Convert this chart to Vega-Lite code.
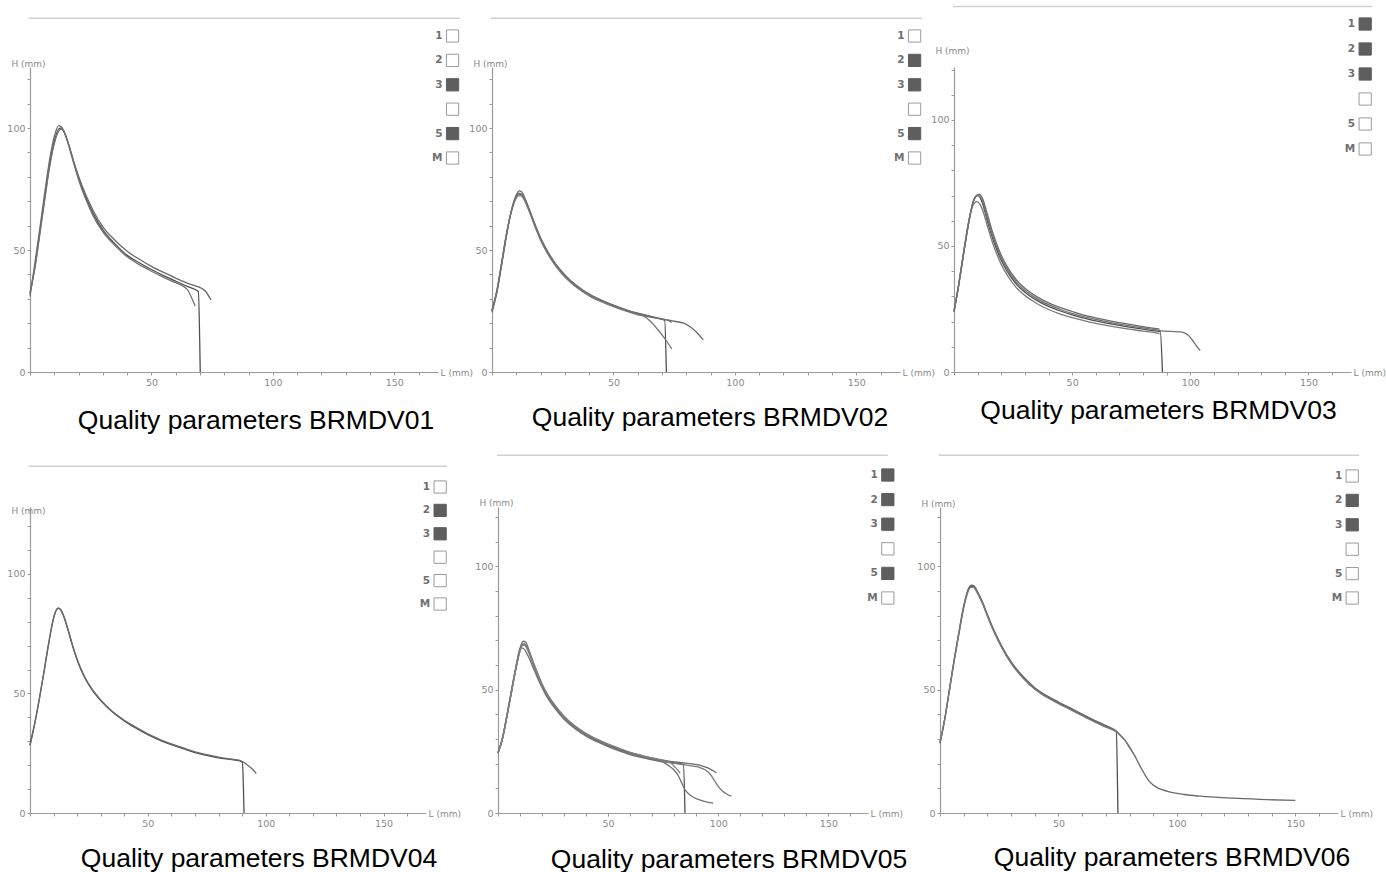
{
"$schema": "https://vega.github.io/schema/vega-lite/v6.json",
"background": "white",
"padding": {"left": 6, "top": 5, "right": 0, "bottom": 0},
"datasets": {
"curves": [
{"p":1,"r":"m","L":0,"H":32},{"p":1,"r":"m","L":2,"H":43},{"p":1,"r":"m","L":4,"H":57},{"p":1,"r":"m","L":6,"H":71},{"p":1,"r":"m","L":8,"H":84.5},{"p":1,"r":"m","L":10,"H":94.5},{"p":1,"r":"m","L":12,"H":99.8},{"p":1,"r":"m","L":13,"H":100},{"p":1,"r":"m","L":14,"H":98.5},{"p":1,"r":"m","L":16,"H":93},{"p":1,"r":"m","L":18,"H":86},{"p":1,"r":"m","L":20,"H":79.5},{"p":1,"r":"m","L":23,"H":71.5},{"p":1,"r":"m","L":26,"H":65},{"p":1,"r":"m","L":30,"H":58.2},{"p":1,"r":"m","L":35,"H":52.5},{"p":1,"r":"m","L":40,"H":47.8},{"p":1,"r":"m","L":45,"H":44.8},{"p":1,"r":"m","L":50,"H":42},{"p":1,"r":"m","L":55,"H":39.5},{"p":1,"r":"m","L":60,"H":37.2},{"p":1,"r":"m","L":65,"H":35},{"p":1,"r":"m","L":69.3,"H":33},{"p":1,"r":"m","L":70.1,"H":0},
{"p":1,"r":"a","L":0,"H":31},{"p":1,"r":"a","L":2,"H":44.5},{"p":1,"r":"a","L":4,"H":58.5},{"p":1,"r":"a","L":6,"H":73},{"p":1,"r":"a","L":8,"H":86.5},{"p":1,"r":"a","L":10,"H":96.5},{"p":1,"r":"a","L":11.8,"H":101},{"p":1,"r":"a","L":12.8,"H":100.5},{"p":1,"r":"a","L":14,"H":98.5},{"p":1,"r":"a","L":16,"H":93},{"p":1,"r":"a","L":18,"H":86.3},{"p":1,"r":"a","L":20,"H":80.2},{"p":1,"r":"a","L":23,"H":72.5},{"p":1,"r":"a","L":26,"H":66.2},{"p":1,"r":"a","L":30,"H":59.5},{"p":1,"r":"a","L":35,"H":54},{"p":1,"r":"a","L":40,"H":49.5},{"p":1,"r":"a","L":45,"H":46.2},{"p":1,"r":"a","L":50,"H":43.3},{"p":1,"r":"a","L":55,"H":40.8},{"p":1,"r":"a","L":60,"H":38.5},{"p":1,"r":"a","L":65,"H":36.3},{"p":1,"r":"a","L":71,"H":34.1},{"p":1,"r":"a","L":72.5,"H":32.8},{"p":1,"r":"a","L":74.5,"H":29.5},
{"p":1,"r":"c","L":0,"H":32.5},{"p":1,"r":"c","L":2,"H":42.5},{"p":1,"r":"c","L":4,"H":56},{"p":1,"r":"c","L":6,"H":70},{"p":1,"r":"c","L":8,"H":83.5},{"p":1,"r":"c","L":10,"H":93.5},{"p":1,"r":"c","L":12,"H":99},{"p":1,"r":"c","L":13,"H":99.6},{"p":1,"r":"c","L":14,"H":98.5},{"p":1,"r":"c","L":16,"H":92.5},{"p":1,"r":"c","L":18,"H":85.5},{"p":1,"r":"c","L":20,"H":78.8},{"p":1,"r":"c","L":23,"H":70.8},{"p":1,"r":"c","L":26,"H":64},{"p":1,"r":"c","L":30,"H":57.4},{"p":1,"r":"c","L":35,"H":51.8},{"p":1,"r":"c","L":40,"H":47.2},{"p":1,"r":"c","L":45,"H":44},{"p":1,"r":"c","L":50,"H":41.3},{"p":1,"r":"c","L":55,"H":38.8},{"p":1,"r":"c","L":60,"H":36.6},{"p":1,"r":"c","L":63,"H":35.2},{"p":1,"r":"c","L":65,"H":33.5},{"p":1,"r":"c","L":66.5,"H":30.5},{"p":1,"r":"c","L":68,"H":27},

{"p":2,"r":"m","L":0,"H":25},{"p":2,"r":"m","L":2,"H":33},{"p":2,"r":"m","L":4,"H":44.5},{"p":2,"r":"m","L":6,"H":56.5},{"p":2,"r":"m","L":8,"H":66},{"p":2,"r":"m","L":10,"H":71.8},{"p":2,"r":"m","L":11,"H":73},{"p":2,"r":"m","L":12,"H":72.8},{"p":2,"r":"m","L":14,"H":69.5},{"p":2,"r":"m","L":16,"H":64.5},{"p":2,"r":"m","L":18,"H":59.3},{"p":2,"r":"m","L":20,"H":54.5},{"p":2,"r":"m","L":23,"H":48.8},{"p":2,"r":"m","L":26,"H":44.2},{"p":2,"r":"m","L":30,"H":39.4},{"p":2,"r":"m","L":35,"H":34.9},{"p":2,"r":"m","L":40,"H":31.6},{"p":2,"r":"m","L":45,"H":29.2},{"p":2,"r":"m","L":50,"H":27.1},{"p":2,"r":"m","L":55,"H":25.3},{"p":2,"r":"m","L":60,"H":23.8},{"p":2,"r":"m","L":65,"H":22.6},{"p":2,"r":"m","L":71.1,"H":21.2},{"p":2,"r":"m","L":71.8,"H":0},
{"p":2,"r":"a","L":0,"H":24.5},{"p":2,"r":"a","L":2,"H":32.5},{"p":2,"r":"a","L":4,"H":44},{"p":2,"r":"a","L":6,"H":56},{"p":2,"r":"a","L":8,"H":66.2},{"p":2,"r":"a","L":10,"H":72.6},{"p":2,"r":"a","L":11.2,"H":74.2},{"p":2,"r":"a","L":12,"H":74},{"p":2,"r":"a","L":14,"H":70.2},{"p":2,"r":"a","L":16,"H":65},{"p":2,"r":"a","L":18,"H":59.8},{"p":2,"r":"a","L":20,"H":55},{"p":2,"r":"a","L":23,"H":49.3},{"p":2,"r":"a","L":26,"H":44.6},{"p":2,"r":"a","L":30,"H":39.8},{"p":2,"r":"a","L":35,"H":35.3},{"p":2,"r":"a","L":40,"H":31.9},{"p":2,"r":"a","L":45,"H":29.5},{"p":2,"r":"a","L":50,"H":27.4},{"p":2,"r":"a","L":55,"H":25.6},{"p":2,"r":"a","L":60,"H":24.1},{"p":2,"r":"a","L":65,"H":22.9},{"p":2,"r":"a","L":70,"H":21.8},{"p":2,"r":"a","L":75,"H":20.8},{"p":2,"r":"a","L":79,"H":20},{"p":2,"r":"a","L":82,"H":18.2},{"p":2,"r":"a","L":85,"H":15.5},{"p":2,"r":"a","L":87,"H":13.2},
{"p":2,"r":"b","L":0,"H":25.3},{"p":2,"r":"b","L":2,"H":33.5},{"p":2,"r":"b","L":4,"H":45},{"p":2,"r":"b","L":6,"H":56.8},{"p":2,"r":"b","L":8,"H":65.8},{"p":2,"r":"b","L":10,"H":71.3},{"p":2,"r":"b","L":11,"H":72.3},{"p":2,"r":"b","L":12,"H":72.2},{"p":2,"r":"b","L":14,"H":69},{"p":2,"r":"b","L":16,"H":64},{"p":2,"r":"b","L":18,"H":58.8},{"p":2,"r":"b","L":20,"H":54},{"p":2,"r":"b","L":23,"H":48.3},{"p":2,"r":"b","L":26,"H":43.7},{"p":2,"r":"b","L":30,"H":38.9},{"p":2,"r":"b","L":35,"H":34.5},{"p":2,"r":"b","L":40,"H":31.2},{"p":2,"r":"b","L":45,"H":28.8},{"p":2,"r":"b","L":50,"H":26.8},{"p":2,"r":"b","L":55,"H":25},{"p":2,"r":"b","L":60,"H":23.4},{"p":2,"r":"b","L":63,"H":22.6},{"p":2,"r":"b","L":66,"H":20},{"p":2,"r":"b","L":69,"H":16.5},{"p":2,"r":"b","L":72,"H":12.5},{"p":2,"r":"b","L":74,"H":9.5},
{"p":2,"r":"c","L":0,"H":25},{"p":2,"r":"c","L":2,"H":33.2},{"p":2,"r":"c","L":4,"H":44.8},{"p":2,"r":"c","L":6,"H":56.7},{"p":2,"r":"c","L":8,"H":66.1},{"p":2,"r":"c","L":10,"H":72},{"p":2,"r":"c","L":11,"H":73.3},{"p":2,"r":"c","L":12,"H":73},{"p":2,"r":"c","L":14,"H":69.7},{"p":2,"r":"c","L":16,"H":64.7},{"p":2,"r":"c","L":18,"H":59.5},{"p":2,"r":"c","L":20,"H":54.7},{"p":2,"r":"c","L":23,"H":49},{"p":2,"r":"c","L":26,"H":44.4},{"p":2,"r":"c","L":30,"H":39.6},{"p":2,"r":"c","L":35,"H":35.1},{"p":2,"r":"c","L":40,"H":31.8},{"p":2,"r":"c","L":45,"H":29.4},{"p":2,"r":"c","L":50,"H":27.3},{"p":2,"r":"c","L":55,"H":25.5},{"p":2,"r":"c","L":60,"H":24},{"p":2,"r":"c","L":65,"H":22.8},{"p":2,"r":"c","L":70,"H":21.7},{"p":2,"r":"c","L":72.5,"H":21.2},{"p":2,"r":"c","L":74,"H":20.3},

{"p":3,"r":"m","L":0,"H":24},{"p":3,"r":"m","L":2,"H":34.5},{"p":3,"r":"m","L":4,"H":46.5},{"p":3,"r":"m","L":6,"H":58},{"p":3,"r":"m","L":8,"H":67},{"p":3,"r":"m","L":9,"H":69.3},{"p":3,"r":"m","L":10,"H":70},{"p":3,"r":"m","L":11,"H":69.3},{"p":3,"r":"m","L":12,"H":67},{"p":3,"r":"m","L":14,"H":60.3},{"p":3,"r":"m","L":16,"H":54},{"p":3,"r":"m","L":18,"H":48.7},{"p":3,"r":"m","L":20,"H":44.3},{"p":3,"r":"m","L":23,"H":39.2},{"p":3,"r":"m","L":26,"H":35.3},{"p":3,"r":"m","L":30,"H":31.6},{"p":3,"r":"m","L":35,"H":28.4},{"p":3,"r":"m","L":40,"H":26},{"p":3,"r":"m","L":45,"H":24.2},{"p":3,"r":"m","L":50,"H":22.7},{"p":3,"r":"m","L":55,"H":21.4},{"p":3,"r":"m","L":60,"H":20.3},{"p":3,"r":"m","L":65,"H":19.3},{"p":3,"r":"m","L":70,"H":18.5},{"p":3,"r":"m","L":75,"H":17.7},{"p":3,"r":"m","L":80,"H":17},{"p":3,"r":"m","L":85,"H":16.3},{"p":3,"r":"m","L":87.3,"H":16},{"p":3,"r":"m","L":88.2,"H":0},
{"p":3,"r":"a","L":0,"H":24},{"p":3,"r":"a","L":2,"H":34.7},{"p":3,"r":"a","L":4,"H":46.8},{"p":3,"r":"a","L":6,"H":58.3},{"p":3,"r":"a","L":8,"H":67.3},{"p":3,"r":"a","L":9.5,"H":70},{"p":3,"r":"a","L":10.8,"H":70.5},{"p":3,"r":"a","L":12,"H":69},{"p":3,"r":"a","L":14,"H":63},{"p":3,"r":"a","L":16,"H":56.5},{"p":3,"r":"a","L":18,"H":51},{"p":3,"r":"a","L":20,"H":46.3},{"p":3,"r":"a","L":23,"H":41},{"p":3,"r":"a","L":26,"H":37},{"p":3,"r":"a","L":30,"H":33.2},{"p":3,"r":"a","L":35,"H":29.9},{"p":3,"r":"a","L":40,"H":27.4},{"p":3,"r":"a","L":45,"H":25.5},{"p":3,"r":"a","L":50,"H":24},{"p":3,"r":"a","L":55,"H":22.6},{"p":3,"r":"a","L":60,"H":21.5},{"p":3,"r":"a","L":65,"H":20.5},{"p":3,"r":"a","L":70,"H":19.6},{"p":3,"r":"a","L":75,"H":18.8},{"p":3,"r":"a","L":80,"H":18},{"p":3,"r":"a","L":85,"H":17.3},{"p":3,"r":"a","L":87,"H":17},
{"p":3,"r":"b","L":0,"H":24.2},{"p":3,"r":"b","L":2,"H":35},{"p":3,"r":"b","L":4,"H":47.3},{"p":3,"r":"b","L":6,"H":58.8},{"p":3,"r":"b","L":8,"H":66},{"p":3,"r":"b","L":9.6,"H":67.6},{"p":3,"r":"b","L":11,"H":66.5},{"p":3,"r":"b","L":12,"H":64.5},{"p":3,"r":"b","L":14,"H":58.3},{"p":3,"r":"b","L":16,"H":52.2},{"p":3,"r":"b","L":18,"H":47},{"p":3,"r":"b","L":20,"H":42.7},{"p":3,"r":"b","L":23,"H":37.7},{"p":3,"r":"b","L":26,"H":33.9},{"p":3,"r":"b","L":30,"H":30.3},{"p":3,"r":"b","L":35,"H":27.2},{"p":3,"r":"b","L":40,"H":24.8},{"p":3,"r":"b","L":45,"H":23},{"p":3,"r":"b","L":50,"H":21.6},{"p":3,"r":"b","L":55,"H":20.4},{"p":3,"r":"b","L":60,"H":19.3},{"p":3,"r":"b","L":65,"H":18.4},{"p":3,"r":"b","L":70,"H":17.6},{"p":3,"r":"b","L":75,"H":16.9},{"p":3,"r":"b","L":80,"H":16.2},{"p":3,"r":"b","L":85,"H":15.6},{"p":3,"r":"b","L":87,"H":15.2},
{"p":3,"r":"c","L":0,"H":24},{"p":3,"r":"c","L":2,"H":34.6},{"p":3,"r":"c","L":4,"H":46.6},{"p":3,"r":"c","L":6,"H":58.1},{"p":3,"r":"c","L":8,"H":67.2},{"p":3,"r":"c","L":10,"H":70.2},{"p":3,"r":"c","L":11,"H":69.6},{"p":3,"r":"c","L":12,"H":67.8},{"p":3,"r":"c","L":14,"H":61.4},{"p":3,"r":"c","L":16,"H":55.2},{"p":3,"r":"c","L":18,"H":49.8},{"p":3,"r":"c","L":20,"H":45.3},{"p":3,"r":"c","L":23,"H":40.1},{"p":3,"r":"c","L":26,"H":36.1},{"p":3,"r":"c","L":30,"H":32.4},{"p":3,"r":"c","L":35,"H":29.1},{"p":3,"r":"c","L":40,"H":26.7},{"p":3,"r":"c","L":45,"H":24.8},{"p":3,"r":"c","L":50,"H":23.3},{"p":3,"r":"c","L":55,"H":22},{"p":3,"r":"c","L":60,"H":20.9},{"p":3,"r":"c","L":65,"H":19.9},{"p":3,"r":"c","L":70,"H":19},{"p":3,"r":"c","L":75,"H":18.2},{"p":3,"r":"c","L":80,"H":17.5},{"p":3,"r":"c","L":85,"H":16.8},{"p":3,"r":"c","L":88,"H":16.3},{"p":3,"r":"c","L":92,"H":16.1},{"p":3,"r":"c","L":96,"H":15.9},{"p":3,"r":"c","L":99,"H":14.7},{"p":3,"r":"c","L":101,"H":12.5},{"p":3,"r":"c","L":102.5,"H":10.5},{"p":3,"r":"c","L":104.2,"H":8.5},

{"p":4,"r":"m","L":0,"H":28.5},{"p":4,"r":"m","L":2,"H":37.5},{"p":4,"r":"m","L":4,"H":48},{"p":4,"r":"m","L":6,"H":59.5},{"p":4,"r":"m","L":8,"H":71.5},{"p":4,"r":"m","L":10,"H":81.5},{"p":4,"r":"m","L":11,"H":84.5},{"p":4,"r":"m","L":12,"H":85.6},{"p":4,"r":"m","L":13,"H":85},{"p":4,"r":"m","L":14,"H":83},{"p":4,"r":"m","L":16,"H":77},{"p":4,"r":"m","L":18,"H":70},{"p":4,"r":"m","L":20,"H":64},{"p":4,"r":"m","L":23,"H":57},{"p":4,"r":"m","L":26,"H":52},{"p":4,"r":"m","L":30,"H":47},{"p":4,"r":"m","L":35,"H":42.2},{"p":4,"r":"m","L":40,"H":38.5},{"p":4,"r":"m","L":45,"H":35.5},{"p":4,"r":"m","L":50,"H":32.8},{"p":4,"r":"m","L":55,"H":30.5},{"p":4,"r":"m","L":60,"H":28.6},{"p":4,"r":"m","L":65,"H":26.9},{"p":4,"r":"m","L":70,"H":25.3},{"p":4,"r":"m","L":75,"H":24.1},{"p":4,"r":"m","L":80,"H":23.1},{"p":4,"r":"m","L":85,"H":22.4},{"p":4,"r":"m","L":89,"H":21.8},{"p":4,"r":"m","L":90.1,"H":21.2},{"p":4,"r":"m","L":90.8,"H":0},
{"p":4,"r":"a","L":0,"H":28.3},{"p":4,"r":"a","L":2,"H":37.3},{"p":4,"r":"a","L":4,"H":47.8},{"p":4,"r":"a","L":6,"H":59.3},{"p":4,"r":"a","L":8,"H":71.3},{"p":4,"r":"a","L":10,"H":81.5},{"p":4,"r":"a","L":11,"H":84.7},{"p":4,"r":"a","L":12,"H":85.8},{"p":4,"r":"a","L":13,"H":85.2},{"p":4,"r":"a","L":14,"H":83.2},{"p":4,"r":"a","L":16,"H":77.3},{"p":4,"r":"a","L":18,"H":70.4},{"p":4,"r":"a","L":20,"H":64.3},{"p":4,"r":"a","L":23,"H":57.3},{"p":4,"r":"a","L":26,"H":52.3},{"p":4,"r":"a","L":30,"H":47.3},{"p":4,"r":"a","L":35,"H":42.5},{"p":4,"r":"a","L":40,"H":38.8},{"p":4,"r":"a","L":45,"H":35.8},{"p":4,"r":"a","L":50,"H":33.1},{"p":4,"r":"a","L":55,"H":30.8},{"p":4,"r":"a","L":60,"H":28.9},{"p":4,"r":"a","L":65,"H":27.2},{"p":4,"r":"a","L":70,"H":25.6},{"p":4,"r":"a","L":75,"H":24.4},{"p":4,"r":"a","L":80,"H":23.4},{"p":4,"r":"a","L":85,"H":22.6},{"p":4,"r":"a","L":89,"H":22},{"p":4,"r":"a","L":91,"H":21},{"p":4,"r":"a","L":93,"H":19.5},{"p":4,"r":"a","L":94.5,"H":18.2},{"p":4,"r":"a","L":96,"H":16.5},

{"p":5,"r":"m","L":0,"H":24.3},{"p":5,"r":"m","L":2,"H":30},{"p":5,"r":"m","L":4,"H":39},{"p":5,"r":"m","L":6,"H":48.5},{"p":5,"r":"m","L":8,"H":58},{"p":5,"r":"m","L":10,"H":66},{"p":5,"r":"m","L":11,"H":68.3},{"p":5,"r":"m","L":12,"H":68.5},{"p":5,"r":"m","L":13,"H":67.3},{"p":5,"r":"m","L":14,"H":65.3},{"p":5,"r":"m","L":16,"H":60.5},{"p":5,"r":"m","L":18,"H":56},{"p":5,"r":"m","L":20,"H":51.8},{"p":5,"r":"m","L":23,"H":46.8},{"p":5,"r":"m","L":26,"H":43},{"p":5,"r":"m","L":30,"H":38.7},{"p":5,"r":"m","L":35,"H":34.7},{"p":5,"r":"m","L":40,"H":31.7},{"p":5,"r":"m","L":45,"H":29.5},{"p":5,"r":"m","L":50,"H":27.5},{"p":5,"r":"m","L":55,"H":25.8},{"p":5,"r":"m","L":60,"H":24.2},{"p":5,"r":"m","L":65,"H":23},{"p":5,"r":"m","L":70,"H":21.9},{"p":5,"r":"m","L":75,"H":21},{"p":5,"r":"m","L":80,"H":20.3},{"p":5,"r":"m","L":84.2,"H":19.6},{"p":5,"r":"m","L":84.9,"H":0},
{"p":5,"r":"a","L":0,"H":24.3},{"p":5,"r":"a","L":2,"H":30.2},{"p":5,"r":"a","L":4,"H":39.3},{"p":5,"r":"a","L":6,"H":49},{"p":5,"r":"a","L":8,"H":58.6},{"p":5,"r":"a","L":10,"H":66.8},{"p":5,"r":"a","L":11.5,"H":69.6},{"p":5,"r":"a","L":12.5,"H":69.3},{"p":5,"r":"a","L":14,"H":66.2},{"p":5,"r":"a","L":16,"H":61.2},{"p":5,"r":"a","L":18,"H":56.6},{"p":5,"r":"a","L":20,"H":52.3},{"p":5,"r":"a","L":23,"H":47.3},{"p":5,"r":"a","L":26,"H":43.5},{"p":5,"r":"a","L":30,"H":39.2},{"p":5,"r":"a","L":35,"H":35.2},{"p":5,"r":"a","L":40,"H":32.2},{"p":5,"r":"a","L":45,"H":29.9},{"p":5,"r":"a","L":50,"H":27.9},{"p":5,"r":"a","L":55,"H":26.2},{"p":5,"r":"a","L":60,"H":24.6},{"p":5,"r":"a","L":65,"H":23.4},{"p":5,"r":"a","L":70,"H":22.3},{"p":5,"r":"a","L":75,"H":21.4},{"p":5,"r":"a","L":80,"H":20.7},{"p":5,"r":"a","L":85,"H":20.2},{"p":5,"r":"a","L":88,"H":19.9},{"p":5,"r":"a","L":91,"H":19.5},{"p":5,"r":"a","L":93,"H":19},{"p":5,"r":"a","L":95.5,"H":18.2},{"p":5,"r":"a","L":97.5,"H":17.2},{"p":5,"r":"a","L":99.2,"H":16.2},
{"p":5,"r":"b","L":0,"H":24.4},{"p":5,"r":"b","L":2,"H":30},{"p":5,"r":"b","L":4,"H":38.9},{"p":5,"r":"b","L":6,"H":48.3},{"p":5,"r":"b","L":8,"H":57.8},{"p":5,"r":"b","L":10,"H":65.6},{"p":5,"r":"b","L":11,"H":67.8},{"p":5,"r":"b","L":12,"H":68},{"p":5,"r":"b","L":13,"H":66.9},{"p":5,"r":"b","L":14,"H":64.9},{"p":5,"r":"b","L":16,"H":60.1},{"p":5,"r":"b","L":18,"H":55.6},{"p":5,"r":"b","L":20,"H":51.4},{"p":5,"r":"b","L":23,"H":46.4},{"p":5,"r":"b","L":26,"H":42.6},{"p":5,"r":"b","L":30,"H":38.4},{"p":5,"r":"b","L":35,"H":34.4},{"p":5,"r":"b","L":40,"H":31.4},{"p":5,"r":"b","L":45,"H":29.2},{"p":5,"r":"b","L":50,"H":27.2},{"p":5,"r":"b","L":55,"H":25.5},{"p":5,"r":"b","L":60,"H":24},{"p":5,"r":"b","L":65,"H":22.8},{"p":5,"r":"b","L":70,"H":21.7},{"p":5,"r":"b","L":75,"H":20.8},{"p":5,"r":"b","L":80,"H":20.1},{"p":5,"r":"b","L":85,"H":19.5},{"p":5,"r":"b","L":90,"H":18.8},{"p":5,"r":"b","L":92,"H":18.3},{"p":5,"r":"b","L":94,"H":17.5},{"p":5,"r":"b","L":95.5,"H":16.5},{"p":5,"r":"b","L":97,"H":14.9},{"p":5,"r":"b","L":98.5,"H":12.8},{"p":5,"r":"b","L":100,"H":10.8},{"p":5,"r":"b","L":102,"H":8.8},{"p":5,"r":"b","L":104,"H":7.6},{"p":5,"r":"b","L":106,"H":6.8},
{"p":5,"r":"c","L":0,"H":24.5},{"p":5,"r":"c","L":2,"H":30.3},{"p":5,"r":"c","L":4,"H":39.5},{"p":5,"r":"c","L":6,"H":49.2},{"p":5,"r":"c","L":8,"H":58.5},{"p":5,"r":"c","L":10,"H":66.5},{"p":5,"r":"c","L":10.6,"H":66.9},{"p":5,"r":"c","L":12,"H":66.3},{"p":5,"r":"c","L":13,"H":64.8},{"p":5,"r":"c","L":14,"H":63},{"p":5,"r":"c","L":16,"H":58.8},{"p":5,"r":"c","L":18,"H":54.6},{"p":5,"r":"c","L":20,"H":50.8},{"p":5,"r":"c","L":23,"H":45.9},{"p":5,"r":"c","L":26,"H":42.2},{"p":5,"r":"c","L":30,"H":38},{"p":5,"r":"c","L":35,"H":34.1},{"p":5,"r":"c","L":40,"H":31.1},{"p":5,"r":"c","L":45,"H":28.9},{"p":5,"r":"c","L":50,"H":26.9},{"p":5,"r":"c","L":55,"H":25.2},{"p":5,"r":"c","L":60,"H":23.7},{"p":5,"r":"c","L":65,"H":22.5},{"p":5,"r":"c","L":70,"H":21.5},{"p":5,"r":"c","L":75,"H":20.6},{"p":5,"r":"c","L":77,"H":19.5},{"p":5,"r":"c","L":79.7,"H":17.6},{"p":5,"r":"c","L":82,"H":14.9},{"p":5,"r":"c","L":83.5,"H":12},{"p":5,"r":"c","L":84.9,"H":9.5},{"p":5,"r":"c","L":86.5,"H":7.8},{"p":5,"r":"c","L":88,"H":6.8},{"p":5,"r":"c","L":90,"H":5.8},{"p":5,"r":"c","L":92.5,"H":5},{"p":5,"r":"c","L":95,"H":4.4},{"p":5,"r":"c","L":97.7,"H":4},
{"p":5,"r":"d","L":0,"H":24.2},{"p":5,"r":"d","L":2,"H":29.9},{"p":5,"r":"d","L":4,"H":38.8},{"p":5,"r":"d","L":6,"H":48.4},{"p":5,"r":"d","L":8,"H":57.9},{"p":5,"r":"d","L":10,"H":66},{"p":5,"r":"d","L":11,"H":68.1},{"p":5,"r":"d","L":12,"H":68.4},{"p":5,"r":"d","L":13,"H":67.4},{"p":5,"r":"d","L":14,"H":65.5},{"p":5,"r":"d","L":16,"H":60.8},{"p":5,"r":"d","L":18,"H":56.3},{"p":5,"r":"d","L":20,"H":52.1},{"p":5,"r":"d","L":23,"H":47.1},{"p":5,"r":"d","L":26,"H":43.3},{"p":5,"r":"d","L":30,"H":39},{"p":5,"r":"d","L":35,"H":35},{"p":5,"r":"d","L":40,"H":32},{"p":5,"r":"d","L":45,"H":29.8},{"p":5,"r":"d","L":50,"H":27.8},{"p":5,"r":"d","L":55,"H":26.1},{"p":5,"r":"d","L":60,"H":24.5},{"p":5,"r":"d","L":65,"H":23.3},{"p":5,"r":"d","L":70,"H":22.2},{"p":5,"r":"d","L":75,"H":21.3},{"p":5,"r":"d","L":78,"H":20.6},{"p":5,"r":"d","L":80.4,"H":18.6},{"p":5,"r":"d","L":82.7,"H":16.2},

{"p":6,"r":"m","L":0,"H":28.4},{"p":6,"r":"m","L":2,"H":38},{"p":6,"r":"m","L":4,"H":50},{"p":6,"r":"m","L":6,"H":62},{"p":6,"r":"m","L":8,"H":73},{"p":6,"r":"m","L":10,"H":83.5},{"p":6,"r":"m","L":11,"H":87.5},{"p":6,"r":"m","L":12,"H":90.5},{"p":6,"r":"m","L":13,"H":91.8},{"p":6,"r":"m","L":14,"H":91.8},{"p":6,"r":"m","L":15,"H":90.8},{"p":6,"r":"m","L":16,"H":89},{"p":6,"r":"m","L":18,"H":85},{"p":6,"r":"m","L":20,"H":80},{"p":6,"r":"m","L":23,"H":73.2},{"p":6,"r":"m","L":26,"H":67.4},{"p":6,"r":"m","L":30,"H":60.9},{"p":6,"r":"m","L":35,"H":55},{"p":6,"r":"m","L":40,"H":50.4},{"p":6,"r":"m","L":45,"H":47.2},{"p":6,"r":"m","L":50,"H":44.6},{"p":6,"r":"m","L":55,"H":42.2},{"p":6,"r":"m","L":60,"H":39.7},{"p":6,"r":"m","L":65,"H":37.3},{"p":6,"r":"m","L":70,"H":35},{"p":6,"r":"m","L":74.4,"H":33},{"p":6,"r":"m","L":75.1,"H":0},
{"p":6,"r":"a","L":0,"H":28.2},{"p":6,"r":"a","L":2,"H":38.2},{"p":6,"r":"a","L":4,"H":50.3},{"p":6,"r":"a","L":6,"H":62.4},{"p":6,"r":"a","L":8,"H":73.5},{"p":6,"r":"a","L":10,"H":84},{"p":6,"r":"a","L":11,"H":88},{"p":6,"r":"a","L":12,"H":91},{"p":6,"r":"a","L":13.2,"H":92.3},{"p":6,"r":"a","L":14,"H":92.2},{"p":6,"r":"a","L":15,"H":91.2},{"p":6,"r":"a","L":16,"H":89.4},{"p":6,"r":"a","L":18,"H":85.4},{"p":6,"r":"a","L":20,"H":80.4},{"p":6,"r":"a","L":23,"H":73.6},{"p":6,"r":"a","L":26,"H":67.8},{"p":6,"r":"a","L":30,"H":61.3},{"p":6,"r":"a","L":35,"H":55.4},{"p":6,"r":"a","L":40,"H":50.8},{"p":6,"r":"a","L":45,"H":47.6},{"p":6,"r":"a","L":50,"H":45},{"p":6,"r":"a","L":55,"H":42.6},{"p":6,"r":"a","L":60,"H":40.1},{"p":6,"r":"a","L":65,"H":37.7},{"p":6,"r":"a","L":70,"H":35.4},{"p":6,"r":"a","L":74,"H":33.5},{"p":6,"r":"a","L":76,"H":31.7},{"p":6,"r":"a","L":78,"H":29.6},{"p":6,"r":"a","L":80,"H":26.8},{"p":6,"r":"a","L":82,"H":23.5},{"p":6,"r":"a","L":84,"H":19.8},{"p":6,"r":"a","L":86,"H":16.3},{"p":6,"r":"a","L":88,"H":13.2},{"p":6,"r":"a","L":90,"H":11.3},{"p":6,"r":"a","L":92,"H":10.1},{"p":6,"r":"a","L":96,"H":8.8},{"p":6,"r":"a","L":103,"H":7.5},{"p":6,"r":"a","L":110,"H":6.8},{"p":6,"r":"a","L":124,"H":6},{"p":6,"r":"a","L":138,"H":5.4},{"p":6,"r":"a","L":150,"H":5.1},
{"p":6,"r":"b","L":0,"H":28.6},{"p":6,"r":"b","L":2,"H":37.8},{"p":6,"r":"b","L":4,"H":49.7},{"p":6,"r":"b","L":6,"H":61.6},{"p":6,"r":"b","L":8,"H":72.6},{"p":6,"r":"b","L":10,"H":83},{"p":6,"r":"b","L":11,"H":87.1},{"p":6,"r":"b","L":12,"H":90.1},{"p":6,"r":"b","L":13,"H":91.4},{"p":6,"r":"b","L":14,"H":91.5},{"p":6,"r":"b","L":15,"H":90.5},{"p":6,"r":"b","L":16,"H":88.7},{"p":6,"r":"b","L":18,"H":84.7},{"p":6,"r":"b","L":20,"H":79.7},{"p":6,"r":"b","L":23,"H":72.9},{"p":6,"r":"b","L":26,"H":67.1},{"p":6,"r":"b","L":30,"H":60.6},{"p":6,"r":"b","L":35,"H":54.7},{"p":6,"r":"b","L":40,"H":50.1},{"p":6,"r":"b","L":45,"H":46.9},{"p":6,"r":"b","L":50,"H":44.3},{"p":6,"r":"b","L":55,"H":41.9},{"p":6,"r":"b","L":60,"H":39.4},{"p":6,"r":"b","L":65,"H":37},{"p":6,"r":"b","L":70,"H":34.8},{"p":6,"r":"b","L":74,"H":33.1},{"p":6,"r":"b","L":76,"H":31.5},{"p":6,"r":"b","L":78,"H":29.5},{"p":6,"r":"b","L":80,"H":26.5},{"p":6,"r":"b","L":82.8,"H":22.3}
],
"legend": [
{"p":1,"k":"1","f":0},{"p":1,"k":"2","f":0},{"p":1,"k":"3","f":1},{"p":1,"k":"4","f":0},{"p":1,"k":"5","f":1},{"p":1,"k":"M","f":0},
{"p":2,"k":"1","f":0},{"p":2,"k":"2","f":1},{"p":2,"k":"3","f":1},{"p":2,"k":"4","f":0},{"p":2,"k":"5","f":1},{"p":2,"k":"M","f":0},
{"p":3,"k":"1","f":1},{"p":3,"k":"2","f":1},{"p":3,"k":"3","f":1},{"p":3,"k":"4","f":0},{"p":3,"k":"5","f":0},{"p":3,"k":"M","f":0},
{"p":4,"k":"1","f":0},{"p":4,"k":"2","f":1},{"p":4,"k":"3","f":1},{"p":4,"k":"4","f":0},{"p":4,"k":"5","f":0},{"p":4,"k":"M","f":0},
{"p":5,"k":"1","f":1},{"p":5,"k":"2","f":1},{"p":5,"k":"3","f":1},{"p":5,"k":"4","f":0},{"p":5,"k":"5","f":1},{"p":5,"k":"M","f":0},
{"p":6,"k":"1","f":0},{"p":6,"k":"2","f":1},{"p":6,"k":"3","f":1},{"p":6,"k":"4","f":0},{"p":6,"k":"5","f":0},{"p":6,"k":"M","f":0}
]
},
"config": {
"view": {"stroke": null},
"axis": {"grid": false, "domainColor": "#9a9a9a", "domainWidth": 1.2, "tickColor": "#9a9a9a", "tickSize": 3, "labelColor": "#8a8a8a", "labelFont": "DejaVu Sans", "labelFontSize": 9.5, "labelPadding": 2, "labelOverlap": false, "labelFlush": false, "labelBound": false, "titleFont": "DejaVu Sans", "titleFontSize": 9, "titleFontWeight": "normal", "titleColor": "#8a8a8a"},
"title": {"font": "Liberation Sans", "fontSize": 26.5, "fontWeight": "normal", "color": "#000000", "orient": "bottom", "frame": "group", "anchor": "middle", "offset": 20}
},
"bounds": "flush",
"spacing": 440,
"vconcat": [
{"bounds": "flush", "spacing": 54, "hconcat": [
{"width": 408, "height": 305, "title": {"text": "Quality parameters BRMDV01", "dx": 22, "dy": 1.5},
 "resolve": {"scale": {"y": "independent"}},
 "layer": [
  {"layer": [
   {"data": {"name": "curves"}, "transform": [{"filter": "datum.p == 1"}], "mark": {"type": "line", "interpolate": "monotone", "strokeWidth": 1.3},
    "encoding": {"x": {"field": "L", "type": "quantitative", "scale": {"domain": [0, 168], "nice": false}, "axis": {"values": [0,10,20,30,40,50,60,70,80,90,100,110,120,130,140,150,160], "labelOverlap": false, "labelExpr": "(datum.value == 50 || datum.value == 100 || datum.value == 150) ? datum.label : ''", "title": "L (mm)", "titleX": 410, "titleY": 0, "titleAlign": "left", "titleBaseline": "middle", "titleAngle": 0}},
     "y": {"field": "H", "type": "quantitative", "scale": {"domain": [0, 125], "nice": false}, "axis": {"values": [0,10,20,30,40,50,60,70,80,90,100,110,120], "labelOverlap": false, "labelExpr": "(datum.value == 0 || datum.value == 50 || datum.value == 100) ? datum.label : ''", "title": "H (mm)", "titleAngle": 0, "titleX": -2, "titleY": -1, "titleAlign": "center", "titleBaseline": "alphabetic"}},
     "color": {"field": "r", "type": "nominal", "scale": {"domain": ["a","b","c","d","m"], "range": ["#6a6a6a","#7a7a7a","#727272","#808080","#4f4f4f"]}, "legend": null}}},
   {"data": {"values": [{}]}, "mark": {"type": "rule", "color": "#d0d0d0", "strokeWidth": 1.5}, "encoding": {"x": {"datum": -0.5, "type": "quantitative", "axis": {"values": [0,10,20,30,40,50,60,70,80,90,100,110,120,130,140,150,160], "labelOverlap": false, "labelExpr": "(datum.value == 50 || datum.value == 100 || datum.value == 150) ? datum.label : ''", "title": "L (mm)", "titleX": 410, "titleY": 0, "titleAlign": "left", "titleBaseline": "middle", "titleAngle": 0}}, "x2": {"datum": 177}, "y": {"datum": 145, "type": "quantitative", "axis": {"values": [0,10,20,30,40,50,60,70,80,90,100,110,120], "labelOverlap": false, "labelExpr": "(datum.value == 0 || datum.value == 50 || datum.value == 100) ? datum.label : ''", "title": "H (mm)", "titleAngle": 0, "titleX": -2, "titleY": -1, "titleAlign": "center", "titleBaseline": "alphabetic"}}}}
  ]},
  {"data": {"name": "legend"}, "transform": [{"filter": "datum.p == 1"}], "layer": [
   {"mark": {"type": "point", "shape": "square", "size": 150, "filled": true, "opacity": 1, "strokeWidth": 1}, "encoding": {"x": {"datum": 174, "type": "quantitative", "axis": {"values": [0,10,20,30,40,50,60,70,80,90,100,110,120,130,140,150,160], "labelOverlap": false, "labelExpr": "(datum.value == 50 || datum.value == 100 || datum.value == 150) ? datum.label : ''", "title": "L (mm)", "titleX": 410, "titleY": 0, "titleAlign": "left", "titleBaseline": "middle", "titleAngle": 0}}, "y": {"field": "k", "type": "ordinal", "scale": {"type": "point", "domain": ["1","2","3","4","5","M"], "range": [-31, 91], "padding": 0}, "axis": null}, "fill": {"condition": {"test": "datum.f == 1", "value": "#5e5e5e"}, "value": "#ffffff"}, "stroke": {"condition": {"test": "datum.f == 1", "value": "#5e5e5e"}, "value": "#9a9a9a"}}},
   {"mark": {"type": "text", "align": "right", "baseline": "middle", "dx": -10, "font": "DejaVu Sans", "fontWeight": "bold", "fontSize": 10.5, "color": "#707070"}, "encoding": {"x": {"datum": 174, "type": "quantitative", "axis": {"values": [0,10,20,30,40,50,60,70,80,90,100,110,120,130,140,150,160], "labelOverlap": false, "labelExpr": "(datum.value == 50 || datum.value == 100 || datum.value == 150) ? datum.label : ''", "title": "L (mm)", "titleX": 410, "titleY": 0, "titleAlign": "left", "titleBaseline": "middle", "titleAngle": 0}}, "y": {"field": "k", "type": "ordinal", "scale": {"type": "point", "domain": ["1","2","3","4","5","M"], "range": [-31, 91], "padding": 0}, "axis": null}, "text": {"condition": {"test": "datum.k == '4'", "value": ""}, "field": "k"}}}
  ]}
 ]},
{"width": 408, "height": 305, "title": {"text": "Quality parameters BRMDV02", "dx": 14, "dy": -1.5},
 "resolve": {"scale": {"y": "independent"}},
 "layer": [
  {"layer": [
   {"data": {"name": "curves"}, "transform": [{"filter": "datum.p == 2"}], "mark": {"type": "line", "interpolate": "monotone", "strokeWidth": 1.3},
    "encoding": {"x": {"field": "L", "type": "quantitative", "scale": {"domain": [0, 168], "nice": false}, "axis": {"values": [0,10,20,30,40,50,60,70,80,90,100,110,120,130,140,150,160], "labelOverlap": false, "labelExpr": "(datum.value == 50 || datum.value == 100 || datum.value == 150) ? datum.label : ''", "title": "L (mm)", "titleX": 410, "titleY": 0, "titleAlign": "left", "titleBaseline": "middle", "titleAngle": 0}},
     "y": {"field": "H", "type": "quantitative", "scale": {"domain": [0, 125], "nice": false}, "axis": {"values": [0,10,20,30,40,50,60,70,80,90,100,110,120], "labelOverlap": false, "labelExpr": "(datum.value == 0 || datum.value == 50 || datum.value == 100) ? datum.label : ''", "title": "H (mm)", "titleAngle": 0, "titleX": -2, "titleY": -1, "titleAlign": "center", "titleBaseline": "alphabetic"}},
     "color": {"field": "r", "type": "nominal", "scale": {"domain": ["a","b","c","d","m"], "range": ["#6a6a6a","#7a7a7a","#727272","#808080","#4f4f4f"]}, "legend": null}}},
   {"data": {"values": [{}]}, "mark": {"type": "rule", "color": "#d0d0d0", "strokeWidth": 1.5}, "encoding": {"x": {"datum": -0.5, "type": "quantitative", "axis": {"values": [0,10,20,30,40,50,60,70,80,90,100,110,120,130,140,150,160], "labelOverlap": false, "labelExpr": "(datum.value == 50 || datum.value == 100 || datum.value == 150) ? datum.label : ''", "title": "L (mm)", "titleX": 410, "titleY": 0, "titleAlign": "left", "titleBaseline": "middle", "titleAngle": 0}}, "x2": {"datum": 177}, "y": {"datum": 145, "type": "quantitative", "axis": {"values": [0,10,20,30,40,50,60,70,80,90,100,110,120], "labelOverlap": false, "labelExpr": "(datum.value == 0 || datum.value == 50 || datum.value == 100) ? datum.label : ''", "title": "H (mm)", "titleAngle": 0, "titleX": -2, "titleY": -1, "titleAlign": "center", "titleBaseline": "alphabetic"}}}}
  ]},
  {"data": {"name": "legend"}, "transform": [{"filter": "datum.p == 2"}], "layer": [
   {"mark": {"type": "point", "shape": "square", "size": 150, "filled": true, "opacity": 1, "strokeWidth": 1}, "encoding": {"x": {"datum": 174, "type": "quantitative", "axis": {"values": [0,10,20,30,40,50,60,70,80,90,100,110,120,130,140,150,160], "labelOverlap": false, "labelExpr": "(datum.value == 50 || datum.value == 100 || datum.value == 150) ? datum.label : ''", "title": "L (mm)", "titleX": 410, "titleY": 0, "titleAlign": "left", "titleBaseline": "middle", "titleAngle": 0}}, "y": {"field": "k", "type": "ordinal", "scale": {"type": "point", "domain": ["1","2","3","4","5","M"], "range": [-31, 91], "padding": 0}, "axis": null}, "fill": {"condition": {"test": "datum.f == 1", "value": "#5e5e5e"}, "value": "#ffffff"}, "stroke": {"condition": {"test": "datum.f == 1", "value": "#5e5e5e"}, "value": "#9a9a9a"}}},
   {"mark": {"type": "text", "align": "right", "baseline": "middle", "dx": -10, "font": "DejaVu Sans", "fontWeight": "bold", "fontSize": 10.5, "color": "#707070"}, "encoding": {"x": {"datum": 174, "type": "quantitative", "axis": {"values": [0,10,20,30,40,50,60,70,80,90,100,110,120,130,140,150,160], "labelOverlap": false, "labelExpr": "(datum.value == 50 || datum.value == 100 || datum.value == 150) ? datum.label : ''", "title": "L (mm)", "titleX": 410, "titleY": 0, "titleAlign": "left", "titleBaseline": "middle", "titleAngle": 0}}, "y": {"field": "k", "type": "ordinal", "scale": {"type": "point", "domain": ["1","2","3","4","5","M"], "range": [-31, 91], "padding": 0}, "axis": null}, "text": {"condition": {"test": "datum.k == '4'", "value": ""}, "field": "k"}}}
  ]}
 ]},
{"width": 397, "height": 305, "title": {"text": "Quality parameters BRMDV03", "dx": 6, "dy": -8.5},
 "resolve": {"scale": {"y": "independent"}},
 "layer": [
  {"layer": [
   {"data": {"name": "curves"}, "transform": [{"filter": "datum.p == 3"}], "mark": {"type": "line", "interpolate": "monotone", "strokeWidth": 1.3},
    "encoding": {"x": {"field": "L", "type": "quantitative", "scale": {"domain": [0, 168], "nice": false}, "axis": {"values": [0,10,20,30,40,50,60,70,80,90,100,110,120,130,140,150,160], "labelOverlap": false, "labelExpr": "(datum.value == 50 || datum.value == 100 || datum.value == 150) ? datum.label : ''", "title": "L (mm)", "titleX": 399, "titleY": 0, "titleAlign": "left", "titleBaseline": "middle", "titleAngle": 0}},
     "y": {"field": "H", "type": "quantitative", "scale": {"domain": [0, 121], "nice": false}, "axis": {"values": [0,10,20,30,40,50,60,70,80,90,100,110,120], "labelOverlap": false, "labelExpr": "(datum.value == 0 || datum.value == 50 || datum.value == 100) ? datum.label : ''", "title": "H (mm)", "titleAngle": 0, "titleX": -2, "titleY": -14, "titleAlign": "center", "titleBaseline": "alphabetic"}},
     "color": {"field": "r", "type": "nominal", "scale": {"domain": ["a","b","c","d","m"], "range": ["#6a6a6a","#7a7a7a","#727272","#808080","#4f4f4f"]}, "legend": null}}},
   {"data": {"values": [{}]}, "mark": {"type": "rule", "color": "#d0d0d0", "strokeWidth": 1.5}, "encoding": {"x": {"datum": -0.5, "type": "quantitative", "axis": {"values": [0,10,20,30,40,50,60,70,80,90,100,110,120,130,140,150,160], "labelOverlap": false, "labelExpr": "(datum.value == 50 || datum.value == 100 || datum.value == 150) ? datum.label : ''", "title": "L (mm)", "titleX": 399, "titleY": 0, "titleAlign": "left", "titleBaseline": "middle", "titleAngle": 0}}, "x2": {"datum": 177}, "y": {"datum": 145, "type": "quantitative", "axis": {"values": [0,10,20,30,40,50,60,70,80,90,100,110,120], "labelOverlap": false, "labelExpr": "(datum.value == 0 || datum.value == 50 || datum.value == 100) ? datum.label : ''", "title": "H (mm)", "titleAngle": 0, "titleX": -2, "titleY": -14, "titleAlign": "center", "titleBaseline": "alphabetic"}}}}
  ]},
  {"data": {"name": "legend"}, "transform": [{"filter": "datum.p == 3"}], "layer": [
   {"mark": {"type": "point", "shape": "square", "size": 150, "filled": true, "opacity": 1, "strokeWidth": 1}, "encoding": {"x": {"datum": 174, "type": "quantitative", "axis": {"values": [0,10,20,30,40,50,60,70,80,90,100,110,120,130,140,150,160], "labelOverlap": false, "labelExpr": "(datum.value == 50 || datum.value == 100 || datum.value == 150) ? datum.label : ''", "title": "L (mm)", "titleX": 399, "titleY": 0, "titleAlign": "left", "titleBaseline": "middle", "titleAngle": 0}}, "y": {"field": "k", "type": "ordinal", "scale": {"type": "point", "domain": ["1","2","3","4","5","M"], "range": [-43, 82], "padding": 0}, "axis": null}, "fill": {"condition": {"test": "datum.f == 1", "value": "#5e5e5e"}, "value": "#ffffff"}, "stroke": {"condition": {"test": "datum.f == 1", "value": "#5e5e5e"}, "value": "#9a9a9a"}}},
   {"mark": {"type": "text", "align": "right", "baseline": "middle", "dx": -10, "font": "DejaVu Sans", "fontWeight": "bold", "fontSize": 10.5, "color": "#707070"}, "encoding": {"x": {"datum": 174, "type": "quantitative", "axis": {"values": [0,10,20,30,40,50,60,70,80,90,100,110,120,130,140,150,160], "labelOverlap": false, "labelExpr": "(datum.value == 50 || datum.value == 100 || datum.value == 150) ? datum.label : ''", "title": "L (mm)", "titleX": 399, "titleY": 0, "titleAlign": "left", "titleBaseline": "middle", "titleAngle": 0}}, "y": {"field": "k", "type": "ordinal", "scale": {"type": "point", "domain": ["1","2","3","4","5","M"], "range": [-43, 82], "padding": 0}, "axis": null}, "text": {"condition": {"test": "datum.k == '4'", "value": ""}, "field": "k"}}}
  ]}
 ]}
]},
{"bounds": "flush", "spacing": 72, "hconcat": [
{"width": 396, "height": 306, "title": {"text": "Quality parameters BRMDV04", "dx": 31, "dy": -1.5},
 "resolve": {"scale": {"y": "independent"}},
 "layer": [
  {"layer": [
   {"data": {"name": "curves"}, "transform": [{"filter": "datum.p == 4"}], "mark": {"type": "line", "interpolate": "monotone", "strokeWidth": 1.3},
    "encoding": {"x": {"field": "L", "type": "quantitative", "scale": {"domain": [0, 168], "nice": false}, "axis": {"values": [0,10,20,30,40,50,60,70,80,90,100,110,120,130,140,150,160], "labelOverlap": false, "labelExpr": "(datum.value == 50 || datum.value == 100 || datum.value == 150) ? datum.label : ''", "title": "L (mm)", "titleX": 398, "titleY": 0, "titleAlign": "left", "titleBaseline": "middle", "titleAngle": 0}},
     "y": {"field": "H", "type": "quantitative", "scale": {"domain": [0, 128], "nice": false}, "axis": {"values": [0,10,20,30,40,50,60,70,80,90,100,110,120], "labelOverlap": false, "labelExpr": "(datum.value == 0 || datum.value == 50 || datum.value == 100) ? datum.label : ''", "title": "H (mm)", "titleAngle": 0, "titleX": -2, "titleY": 6, "titleAlign": "center", "titleBaseline": "alphabetic"}},
     "color": {"field": "r", "type": "nominal", "scale": {"domain": ["a","b","c","d","m"], "range": ["#6a6a6a","#7a7a7a","#727272","#808080","#4f4f4f"]}, "legend": null}}},
   {"data": {"values": [{}]}, "mark": {"type": "rule", "color": "#d0d0d0", "strokeWidth": 1.5}, "encoding": {"x": {"datum": -0.5, "type": "quantitative", "axis": {"values": [0,10,20,30,40,50,60,70,80,90,100,110,120,130,140,150,160], "labelOverlap": false, "labelExpr": "(datum.value == 50 || datum.value == 100 || datum.value == 150) ? datum.label : ''", "title": "L (mm)", "titleX": 398, "titleY": 0, "titleAlign": "left", "titleBaseline": "middle", "titleAngle": 0}}, "x2": {"datum": 177}, "y": {"datum": 145, "type": "quantitative", "axis": {"values": [0,10,20,30,40,50,60,70,80,90,100,110,120], "labelOverlap": false, "labelExpr": "(datum.value == 0 || datum.value == 50 || datum.value == 100) ? datum.label : ''", "title": "H (mm)", "titleAngle": 0, "titleX": -2, "titleY": 6, "titleAlign": "center", "titleBaseline": "alphabetic"}}}}
  ]},
  {"data": {"name": "legend"}, "transform": [{"filter": "datum.p == 4"}], "layer": [
   {"mark": {"type": "point", "shape": "square", "size": 150, "filled": true, "opacity": 1, "strokeWidth": 1}, "encoding": {"x": {"datum": 174, "type": "quantitative", "axis": {"values": [0,10,20,30,40,50,60,70,80,90,100,110,120,130,140,150,160], "labelOverlap": false, "labelExpr": "(datum.value == 50 || datum.value == 100 || datum.value == 150) ? datum.label : ''", "title": "L (mm)", "titleX": 398, "titleY": 0, "titleAlign": "left", "titleBaseline": "middle", "titleAngle": 0}}, "y": {"field": "k", "type": "ordinal", "scale": {"type": "point", "domain": ["1","2","3","4","5","M"], "range": [-20, 97], "padding": 0}, "axis": null}, "fill": {"condition": {"test": "datum.f == 1", "value": "#5e5e5e"}, "value": "#ffffff"}, "stroke": {"condition": {"test": "datum.f == 1", "value": "#5e5e5e"}, "value": "#9a9a9a"}}},
   {"mark": {"type": "text", "align": "right", "baseline": "middle", "dx": -10, "font": "DejaVu Sans", "fontWeight": "bold", "fontSize": 10.5, "color": "#707070"}, "encoding": {"x": {"datum": 174, "type": "quantitative", "axis": {"values": [0,10,20,30,40,50,60,70,80,90,100,110,120,130,140,150,160], "labelOverlap": false, "labelExpr": "(datum.value == 50 || datum.value == 100 || datum.value == 150) ? datum.label : ''", "title": "L (mm)", "titleX": 398, "titleY": 0, "titleAlign": "left", "titleBaseline": "middle", "titleAngle": 0}}, "y": {"field": "k", "type": "ordinal", "scale": {"type": "point", "domain": ["1","2","3","4","5","M"], "range": [-20, 97], "padding": 0}, "axis": null}, "text": {"condition": {"test": "datum.k == '4'", "value": ""}, "field": "k"}}}
  ]}
 ]},
{"width": 370, "height": 306, "title": {"text": "Quality parameters BRMDV05", "dx": 46, "dy": -0.5},
 "resolve": {"scale": {"y": "independent"}},
 "layer": [
  {"layer": [
   {"data": {"name": "curves"}, "transform": [{"filter": "datum.p == 5"}], "mark": {"type": "line", "interpolate": "monotone", "strokeWidth": 1.3},
    "encoding": {"x": {"field": "L", "type": "quantitative", "scale": {"domain": [0, 168], "nice": false}, "axis": {"values": [0,10,20,30,40,50,60,70,80,90,100,110,120,130,140,150,160], "labelOverlap": false, "labelExpr": "(datum.value == 50 || datum.value == 100 || datum.value == 150) ? datum.label : ''", "title": "L (mm)", "titleX": 372, "titleY": 0, "titleAlign": "left", "titleBaseline": "middle", "titleAngle": 0}},
     "y": {"field": "H", "type": "quantitative", "scale": {"domain": [0, 124], "nice": false}, "axis": {"values": [0,10,20,30,40,50,60,70,80,90,100,110,120], "labelOverlap": false, "labelExpr": "(datum.value == 0 || datum.value == 50 || datum.value == 100) ? datum.label : ''", "title": "H (mm)", "titleAngle": 0, "titleX": -2, "titleY": -2, "titleAlign": "center", "titleBaseline": "alphabetic"}},
     "color": {"field": "r", "type": "nominal", "scale": {"domain": ["a","b","c","d","m"], "range": ["#6a6a6a","#7a7a7a","#727272","#808080","#4f4f4f"]}, "legend": null}}},
   {"data": {"values": [{}]}, "mark": {"type": "rule", "color": "#d0d0d0", "strokeWidth": 1.5}, "encoding": {"x": {"datum": -0.5, "type": "quantitative", "axis": {"values": [0,10,20,30,40,50,60,70,80,90,100,110,120,130,140,150,160], "labelOverlap": false, "labelExpr": "(datum.value == 50 || datum.value == 100 || datum.value == 150) ? datum.label : ''", "title": "L (mm)", "titleX": 372, "titleY": 0, "titleAlign": "left", "titleBaseline": "middle", "titleAngle": 0}}, "x2": {"datum": 177}, "y": {"datum": 145, "type": "quantitative", "axis": {"values": [0,10,20,30,40,50,60,70,80,90,100,110,120], "labelOverlap": false, "labelExpr": "(datum.value == 0 || datum.value == 50 || datum.value == 100) ? datum.label : ''", "title": "H (mm)", "titleAngle": 0, "titleX": -2, "titleY": -2, "titleAlign": "center", "titleBaseline": "alphabetic"}}}}
  ]},
  {"data": {"name": "legend"}, "transform": [{"filter": "datum.p == 5"}], "layer": [
   {"mark": {"type": "point", "shape": "square", "size": 150, "filled": true, "opacity": 1, "strokeWidth": 1}, "encoding": {"x": {"datum": 177, "type": "quantitative", "axis": {"values": [0,10,20,30,40,50,60,70,80,90,100,110,120,130,140,150,160], "labelOverlap": false, "labelExpr": "(datum.value == 50 || datum.value == 100 || datum.value == 150) ? datum.label : ''", "title": "L (mm)", "titleX": 372, "titleY": 0, "titleAlign": "left", "titleBaseline": "middle", "titleAngle": 0}}, "y": {"field": "k", "type": "ordinal", "scale": {"type": "point", "domain": ["1","2","3","4","5","M"], "range": [-32, 91], "padding": 0}, "axis": null}, "fill": {"condition": {"test": "datum.f == 1", "value": "#5e5e5e"}, "value": "#ffffff"}, "stroke": {"condition": {"test": "datum.f == 1", "value": "#5e5e5e"}, "value": "#9a9a9a"}}},
   {"mark": {"type": "text", "align": "right", "baseline": "middle", "dx": -10, "font": "DejaVu Sans", "fontWeight": "bold", "fontSize": 10.5, "color": "#707070"}, "encoding": {"x": {"datum": 177, "type": "quantitative", "axis": {"values": [0,10,20,30,40,50,60,70,80,90,100,110,120,130,140,150,160], "labelOverlap": false, "labelExpr": "(datum.value == 50 || datum.value == 100 || datum.value == 150) ? datum.label : ''", "title": "L (mm)", "titleX": 372, "titleY": 0, "titleAlign": "left", "titleBaseline": "middle", "titleAngle": 0}}, "y": {"field": "k", "type": "ordinal", "scale": {"type": "point", "domain": ["1","2","3","4","5","M"], "range": [-32, 91], "padding": 0}, "axis": null}, "text": {"condition": {"test": "datum.k == '4'", "value": ""}, "field": "k"}}}
  ]}
 ]},
{"width": 398, "height": 306, "title": {"text": "Quality parameters BRMDV06", "dx": 33, "dy": -2.5},
 "resolve": {"scale": {"y": "independent"}},
 "layer": [
  {"layer": [
   {"data": {"name": "curves"}, "transform": [{"filter": "datum.p == 6"}], "mark": {"type": "line", "interpolate": "monotone", "strokeWidth": 1.3},
    "encoding": {"x": {"field": "L", "type": "quantitative", "scale": {"domain": [0, 168], "nice": false}, "axis": {"values": [0,10,20,30,40,50,60,70,80,90,100,110,120,130,140,150,160], "labelOverlap": false, "labelExpr": "(datum.value == 50 || datum.value == 100 || datum.value == 150) ? datum.label : ''", "title": "L (mm)", "titleX": 400, "titleY": 0, "titleAlign": "left", "titleBaseline": "middle", "titleAngle": 0}},
     "y": {"field": "H", "type": "quantitative", "scale": {"domain": [0, 124], "nice": false}, "axis": {"values": [0,10,20,30,40,50,60,70,80,90,100,110,120], "labelOverlap": false, "labelExpr": "(datum.value == 0 || datum.value == 50 || datum.value == 100) ? datum.label : ''", "title": "H (mm)", "titleAngle": 0, "titleX": -2, "titleY": -1, "titleAlign": "center", "titleBaseline": "alphabetic"}},
     "color": {"field": "r", "type": "nominal", "scale": {"domain": ["a","b","c","d","m"], "range": ["#6a6a6a","#7a7a7a","#727272","#808080","#4f4f4f"]}, "legend": null}}},
   {"data": {"values": [{}]}, "mark": {"type": "rule", "color": "#d0d0d0", "strokeWidth": 1.5}, "encoding": {"x": {"datum": -0.5, "type": "quantitative", "axis": {"values": [0,10,20,30,40,50,60,70,80,90,100,110,120,130,140,150,160], "labelOverlap": false, "labelExpr": "(datum.value == 50 || datum.value == 100 || datum.value == 150) ? datum.label : ''", "title": "L (mm)", "titleX": 400, "titleY": 0, "titleAlign": "left", "titleBaseline": "middle", "titleAngle": 0}}, "x2": {"datum": 177}, "y": {"datum": 145, "type": "quantitative", "axis": {"values": [0,10,20,30,40,50,60,70,80,90,100,110,120], "labelOverlap": false, "labelExpr": "(datum.value == 0 || datum.value == 50 || datum.value == 100) ? datum.label : ''", "title": "H (mm)", "titleAngle": 0, "titleX": -2, "titleY": -1, "titleAlign": "center", "titleBaseline": "alphabetic"}}}}
  ]},
  {"data": {"name": "legend"}, "transform": [{"filter": "datum.p == 6"}], "layer": [
   {"mark": {"type": "point", "shape": "square", "size": 150, "filled": true, "opacity": 1, "strokeWidth": 1}, "encoding": {"x": {"datum": 174, "type": "quantitative", "axis": {"values": [0,10,20,30,40,50,60,70,80,90,100,110,120,130,140,150,160], "labelOverlap": false, "labelExpr": "(datum.value == 50 || datum.value == 100 || datum.value == 150) ? datum.label : ''", "title": "L (mm)", "titleX": 400, "titleY": 0, "titleAlign": "left", "titleBaseline": "middle", "titleAngle": 0}}, "y": {"field": "k", "type": "ordinal", "scale": {"type": "point", "domain": ["1","2","3","4","5","M"], "range": [-31, 91], "padding": 0}, "axis": null}, "fill": {"condition": {"test": "datum.f == 1", "value": "#5e5e5e"}, "value": "#ffffff"}, "stroke": {"condition": {"test": "datum.f == 1", "value": "#5e5e5e"}, "value": "#9a9a9a"}}},
   {"mark": {"type": "text", "align": "right", "baseline": "middle", "dx": -10, "font": "DejaVu Sans", "fontWeight": "bold", "fontSize": 10.5, "color": "#707070"}, "encoding": {"x": {"datum": 174, "type": "quantitative", "axis": {"values": [0,10,20,30,40,50,60,70,80,90,100,110,120,130,140,150,160], "labelOverlap": false, "labelExpr": "(datum.value == 50 || datum.value == 100 || datum.value == 150) ? datum.label : ''", "title": "L (mm)", "titleX": 400, "titleY": 0, "titleAlign": "left", "titleBaseline": "middle", "titleAngle": 0}}, "y": {"field": "k", "type": "ordinal", "scale": {"type": "point", "domain": ["1","2","3","4","5","M"], "range": [-31, 91], "padding": 0}, "axis": null}, "text": {"condition": {"test": "datum.k == '4'", "value": ""}, "field": "k"}}}
  ]}
 ]}
]}
]
}
